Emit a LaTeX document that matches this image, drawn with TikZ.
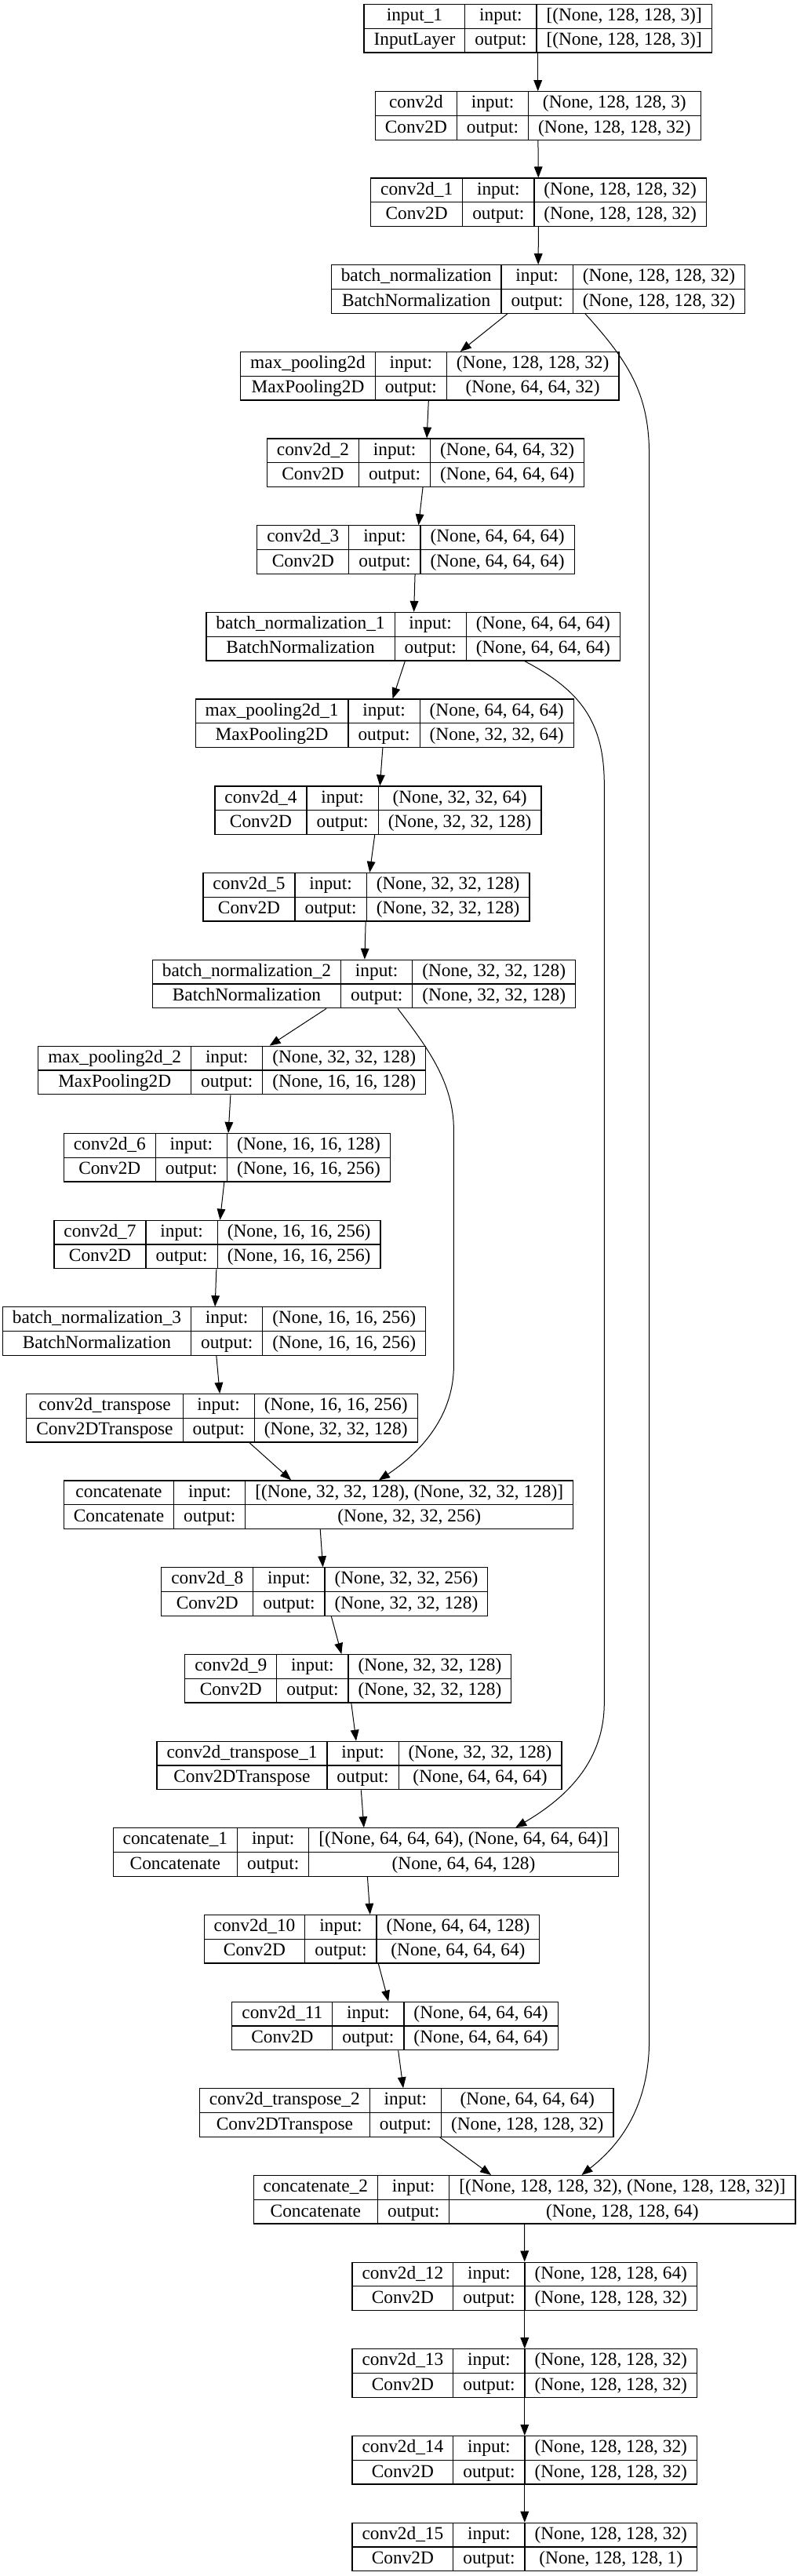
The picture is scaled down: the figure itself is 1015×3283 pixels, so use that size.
\documentclass[tikz,border=0pt]{standalone}
\usepackage{fontspec}
\setmainfont{Liberation Serif}
\usetikzlibrary{arrows.meta,calc}
\setlength{\tabcolsep}{9.4pt}
\setlength{\arrayrulewidth}{0.9pt}
\newcommand{\rs}{\rule[-6.8pt]{0pt}{22.6pt}}
\newcommand{\lbox}[4]{\begin{tabular}{c|c|c}
  \rs#1 & input: & #3\\\hline
  \rs#2 & output: & #4
\end{tabular}}

\begin{document}
\begin{tikzpicture}[x=0.75pt,y=-0.75pt]
  \tikzset{ ly/.style={draw,line width=0.9pt,inner sep=0pt,font=\fontsize{17.5pt}{20pt}\selectfont},
    ar/.style={-{Triangle[length=10.5pt,width=8pt]},line width=0.75pt},
  }
  \useasboundingbox (0,0) rectangle (1015,3283);

  \node[ly] (in1) at (685.7,36.3) {\lbox{input\_1}{InputLayer}{[(None, 128, 128, 3)]}{[(None, 128, 128, 3)]}};
  \node[ly] (c0) at (685.7,147.5) {\lbox{conv2d}{Conv2D}{(None, 128, 128, 3)}{(None, 128, 128, 32)}};
  \node[ly] (c1) at (686.5,257.8) {\lbox{conv2d\_1}{Conv2D}{(None, 128, 128, 32)}{(None, 128, 128, 32)}};
  \node[ly] (bn0) at (686,368.5) {\lbox{batch\_normalization}{BatchNormalization}{(None, 128, 128, 32)}{(None, 128, 128, 32)}};
  \node[ly] (mp0) at (547.8,479.3) {\lbox{max\_pooling2d}{MaxPooling2D}{(None, 128, 128, 32)}{(None, 64, 64, 32)}};
  \node[ly] (c2) at (542.6,589.8) {\lbox{conv2d\_2}{Conv2D}{(None, 64, 64, 32)}{(None, 64, 64, 64)}};
  \node[ly] (c3) at (530,700.5) {\lbox{conv2d\_3}{Conv2D}{(None, 64, 64, 64)}{(None, 64, 64, 64)}};
  \node[ly] (bn1) at (526.7,811.2) {\lbox{batch\_normalization\_1}{BatchNormalization}{(None, 64, 64, 64)}{(None, 64, 64, 64)}};
  \node[ly] (mp1) at (490.2,921.8) {\lbox{max\_pooling2d\_1}{MaxPooling2D}{(None, 64, 64, 64)}{(None, 32, 32, 64)}};
  \node[ly] (c4) at (482,1032.8) {\lbox{conv2d\_4}{Conv2D}{(None, 32, 32, 64)}{(None, 32, 32, 128)}};
  \node[ly] (c5) at (467,1143.2) {\lbox{conv2d\_5}{Conv2D}{(None, 32, 32, 128)}{(None, 32, 32, 128)}};
  \node[ly] (bn2) at (464,1254) {\lbox{batch\_normalization\_2}{BatchNormalization}{(None, 32, 32, 128)}{(None, 32, 32, 128)}};
  \node[ly] (mp2) at (295.7,1364) {\lbox{max\_pooling2d\_2}{MaxPooling2D}{(None, 32, 32, 128)}{(None, 16, 16, 128)}};
  \node[ly] (c6) at (289.3,1475.3) {\lbox{conv2d\_6}{Conv2D}{(None, 16, 16, 128)}{(None, 16, 16, 256)}};
  \node[ly] (c7) at (277,1586) {\lbox{conv2d\_7}{Conv2D}{(None, 16, 16, 256)}{(None, 16, 16, 256)}};
  \node[ly] (bn3) at (273,1696.5) {\lbox{batch\_normalization\_3}{BatchNormalization}{(None, 16, 16, 256)}{(None, 16, 16, 256)}};
  \node[ly] (ct0) at (283,1807.3) {\lbox{conv2d\_transpose}{Conv2DTranspose}{(None, 16, 16, 256)}{(None, 32, 32, 128)}};
  \node[ly] (cat0) at (406,1917.7) {\lbox{concatenate}{Concatenate}{[(None, 32, 32, 128), (None, 32, 32, 128)]}{(None, 32, 32, 256)}};
  \node[ly] (c8) at (413.8,2028.5) {\lbox{conv2d\_8}{Conv2D}{(None, 32, 32, 256)}{(None, 32, 32, 128)}};
  \node[ly] (c9) at (443.8,2139.3) {\lbox{conv2d\_9}{Conv2D}{(None, 32, 32, 128)}{(None, 32, 32, 128)}};
  \node[ly] (ct1) at (458,2250) {\lbox{conv2d\_transpose\_1}{Conv2DTranspose}{(None, 32, 32, 128)}{(None, 64, 64, 64)}};
  \node[ly] (cat1) at (466.2,2360.5) {\lbox{concatenate\_1}{Concatenate}{[(None, 64, 64, 64), (None, 64, 64, 64)]}{(None, 64, 64, 128)}};
  \node[ly] (c10) at (474,2471.2) {\lbox{conv2d\_10}{Conv2D}{(None, 64, 64, 128)}{(None, 64, 64, 64)}};
  \node[ly] (c11) at (503.5,2582) {\lbox{conv2d\_11}{Conv2D}{(None, 64, 64, 64)}{(None, 64, 64, 64)}};
  \node[ly] (ct2) at (518.2,2692.5) {\lbox{conv2d\_transpose\_2}{Conv2DTranspose}{(None, 64, 64, 64)}{(None, 128, 128, 32)}};
  \node[ly] (cat2) at (668.5,2803.3) {\lbox{concatenate\_2}{Concatenate}{[(None, 128, 128, 32), (None, 128, 128, 32)]}{(None, 128, 128, 64)}};
  \node[ly] (c12) at (668.8,2913.8) {\lbox{conv2d\_12}{Conv2D}{(None, 128, 128, 64)}{(None, 128, 128, 32)}};
  \node[ly] (c13) at (668.8,3024.5) {\lbox{conv2d\_13}{Conv2D}{(None, 128, 128, 32)}{(None, 128, 128, 32)}};
  \node[ly] (c14) at (668.8,3135.3) {\lbox{conv2d\_14}{Conv2D}{(None, 128, 128, 32)}{(None, 128, 128, 32)}};
  \node[ly] (c15) at (668.8,3246) {\lbox{conv2d\_15}{Conv2D}{(None, 128, 128, 32)}{(None, 128, 128, 1)}};

  \draw[ar] (in1) -- (c0);
  \draw[ar] (c0) -- (c1);
  \draw[ar] (c1) -- (bn0);
  \draw[ar] (bn0) -- (mp0);
  \draw[ar] (mp0) -- (c2);
  \draw[ar] (c2) -- (c3);
  \draw[ar] (c3) -- (bn1);
  \draw[ar] (bn1) -- (mp1);
  \draw[ar] (mp1) -- (c4);
  \draw[ar] (c4) -- (c5);
  \draw[ar] (c5) -- (bn2);
  \draw[ar] (bn2) -- (mp2);
  \draw[ar] (mp2) -- (c6);
  \draw[ar] (c6) -- (c7);
  \draw[ar] (c7) -- (bn3);
  \draw[ar] (bn3) -- (ct0);
  \draw[ar] (ct0) -- (cat0);
  \draw[ar] (cat0) -- (c8);
  \draw[ar] (c8) -- (c9);
  \draw[ar] (c9) -- (ct1);
  \draw[ar] (ct1) -- (cat1);
  \draw[ar] (cat1) -- (c10);
  \draw[ar] (c10) -- (c11);
  \draw[ar] (c11) -- (ct2);
  \draw[ar] (ct2) -- (cat2);
  \draw[ar] (cat2) -- (c12);
  \draw[ar] (c12) -- (c13);
  \draw[ar] (c13) -- (c14);
  \draw[ar] (c14) -- (c15);

  % skip connections
  \draw[ar] ($(bn0.south)+(60,0)$) .. controls (800,460) and (827.6,500) .. (827.6,580)
    -- (827.6,2600) .. controls (827.6,2700) and (775,2745) .. ($(cat2.north)+(73,0)$);
  \draw[ar] ($(bn1.south)+(142,0)$) .. controls (740,880) and (770.3,920) .. (770.3,1000)
    -- (770.3,2170) .. controls (770.3,2250) and (715,2295) .. ($(cat1.north)+(191,0)$);
  \draw[ar] ($(bn2.south)+(43,0)$) .. controls (545,1335) and (578.4,1380) .. (578.4,1440)
    -- (578.4,1740) .. controls (578.4,1810) and (530,1855) .. ($(cat0.north)+(77,0)$);

\end{tikzpicture}
\end{document}
